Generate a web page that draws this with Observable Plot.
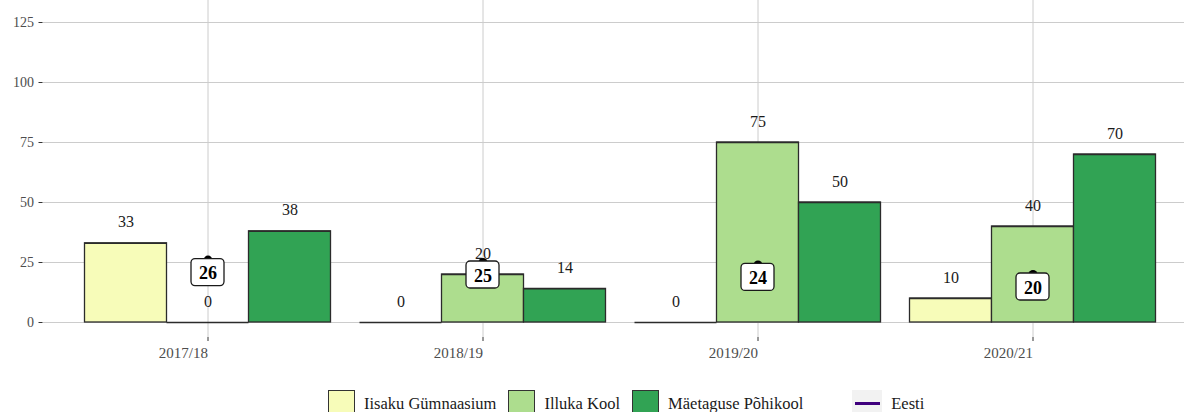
<!DOCTYPE html>
<html>
<head>
<meta charset="utf-8">
<script src="https://cdn.jsdelivr.net/npm/d3@7"></script>
<script src="https://cdn.jsdelivr.net/npm/@observablehq/plot@0.6"></script>
<style>
  html, body { margin: 0; padding: 0; background: #fff; overflow: hidden; }
  body { width: 1184px; height: 412px; font-family: "Liberation Serif", "DejaVu Serif", serif; }
  #legend { display: flex; align-items: center; margin-top: 6px; padding-left: 328px; font-size: 16.5px; color: #1a1a1a; }
  .item { display: flex; align-items: center; margin-right: 12px; }
  .key { width: 27px; height: 27px; box-sizing: border-box; border: 1.3px solid #333; margin-right: 9px; }
  .lkey { width: 30px; height: 27px; background: #f2f2f2; margin-right: 9px; display: flex; align-items: center; justify-content: center; }
  .lkey span { display: block; width: 25px; height: 3.5px; }
</style>
</head>
<body>
<div id="chart"></div>
<div id="legend"></div>
<script>
const years = ["2017/18", "2018/19", "2019/20", "2020/21"];
const schools = ["Iisaku Gümnaasium", "Illuka Kool", "Mäetaguse Põhikool"];
const iisaku = [33, 0, 0, 10];
const illuka = [0, 20, 75, 40];
const maetaguse = [38, 14, 50, 70];
const eesti = [26, 25, 24, 20];
const eestiLabel = "Eesti";
const yTicks = [0, 25, 50, 75, 100, 125];
const schoolColors = ["#f7fcb9", "#addd8e", "#31a354"];
const eestiColor = "#3f007d";

const seriesBySchool = [iisaku, illuka, maetaguse];
const rows = years.flatMap((year, i) =>
  schools.map((school, s) => ({year, school, value: seriesBySchool[s][i]}))
);
const eestiRows = years.map((year, i) => ({year, value: eesti[i]}));

const chart = Plot.plot({
  width: 1184,
  height: 384,
  marginLeft: 69.5,
  marginRight: 14.5,
  marginTop: 0,
  marginBottom: 47,
  style: {fontFamily: "Liberation Serif, serif", fontSize: "14px", background: "white", color: "#1a1a1a"},
  fx: {domain: years, padding: 0, label: null},
  x: {domain: schools, paddingInner: 0, paddingOuter: 0.1667, axis: null},
  y: {domain: [-6.25, 134.17]},
  color: {domain: schools, range: schoolColors},
  marks: [
    Plot.ruleY(yTicks, {stroke: "#cccccc", strokeWidth: 1, insetLeft: -27.5, insetRight: -27.5}),
    Plot.gridFx({stroke: "#cccccc", strokeOpacity: 1, strokeWidth: 1}),
    Plot.barY(rows, {fx: "year", x: "school", y: "value", fill: "school", stroke: "#2b2b2b", strokeWidth: 1.3}),
    Plot.tickY(rows, {fx: "year", x: "school", y: "value", stroke: "#2b2b2b", strokeWidth: 1.3}),
    Plot.text(rows, {fx: "year", x: "school", y: "value", text: d => String(d.value), dy: -21, fontSize: 16, fill: "#1a1a1a"}),
    Plot.dot(eestiRows, {fx: "year", y: "value", r: 4.5, fill: "#000000"}),
    Plot.rect(eestiRows, {fx: "year", y1: "value", y2: "value", insetLeft: 121, insetRight: 121, insetTop: -1, insetBottom: -26, rx: 4, fill: "white", stroke: "#1a1a1a", strokeWidth: 1.3}),
    Plot.text(eestiRows, {fx: "year", y: "value", text: d => String(d.value), dy: 13.5, fontSize: 18, fontWeight: "bold", fill: "#000000"}),
    Plot.axisY(yTicks, {anchor: "left", tickSize: 4, tickPadding: 5, dx: -27.5, fontSize: 14, stroke: "#333333", fill: "#4d4d4d", label: null}),
    Plot.axisFx({anchor: "bottom", tickSize: 4, tickPadding: 5.5, fontSize: 15, textAnchor: "end", stroke: "#333333", fill: "#4d4d4d", label: null})
  ]
});
document.getElementById("chart").appendChild(chart);

const legend = document.getElementById("legend");
schools.forEach((s, i) => {
  const item = document.createElement("div");
  item.className = "item";
  const key = document.createElement("div");
  key.className = "key";
  key.style.background = schoolColors[i];
  const label = document.createElement("span");
  label.textContent = s;
  item.appendChild(key);
  item.appendChild(label);
  legend.appendChild(item);
});
const eItem = document.createElement("div");
eItem.className = "item";
eItem.style.marginLeft = "37px";
const eKey = document.createElement("div");
eKey.className = "lkey";
const eLine = document.createElement("span");
eLine.style.background = eestiColor;
eKey.appendChild(eLine);
const eLab = document.createElement("span");
eLab.textContent = eestiLabel;
eItem.appendChild(eKey);
eItem.appendChild(eLab);
legend.appendChild(eItem);
</script>
</body>
</html>
